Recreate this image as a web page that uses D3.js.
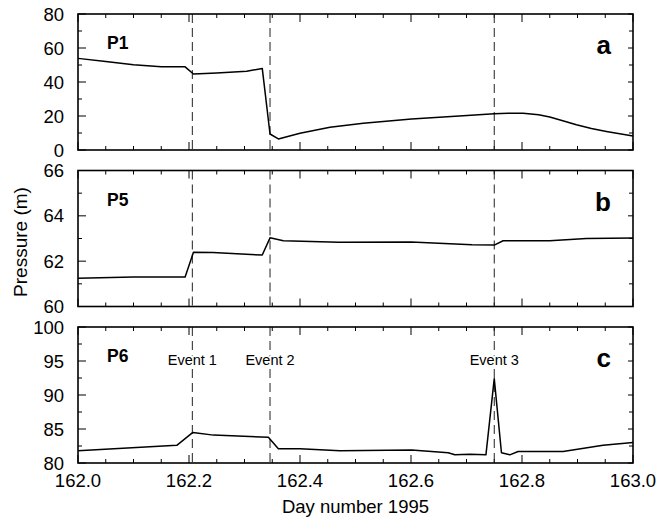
<!DOCTYPE html>
<html>
<head>
<meta charset="utf-8">
<script src="https://cdn.jsdelivr.net/npm/d3@7"></script>
<style>
  body { margin: 0; background: #fff; }
  svg { font-family: "Liberation Sans", Arial, Helvetica, sans-serif; }
</style>
</head>
<body>
<div id="chart"></div>
<script>
// P1 pressure (panel a)
const p1Days   = [162.0, 162.05, 162.1, 162.15, 162.193, 162.208, 162.25, 162.304, 162.332, 162.346, 162.361, 162.4, 162.454, 162.514, 162.601, 162.694, 162.75, 162.775, 162.802, 162.83, 162.85, 162.875, 162.898, 162.925, 162.952, 163.0];
const p1Values = [53.9, 52.0, 50.2, 49.0, 48.9, 44.7, 45.3, 46.3, 48.0, 9.4, 6.5, 9.8, 13.4, 15.7, 18.2, 20.2, 21.3, 21.6, 21.6, 20.7, 19.4, 17.1, 14.8, 12.6, 10.9, 8.2];

// P5 pressure (panel b)
const p5Days   = [162.0, 162.1, 162.193, 162.208, 162.243, 162.332, 162.346, 162.37, 162.47, 162.6, 162.71, 162.75, 162.766, 162.85, 162.916, 163.0];
const p5Values = [61.25, 61.3, 61.3, 62.39, 62.38, 62.27, 63.03, 62.9, 62.84, 62.85, 62.72, 62.71, 62.9, 62.9, 63.0, 63.02];

// P6 pressure (panel c)
const p6Days   = [162.0, 162.178, 162.207, 162.244, 162.343, 162.361, 162.4, 162.472, 162.601, 162.667, 162.679, 162.706, 162.735, 162.75, 162.763, 162.778, 162.793, 162.874, 162.946, 163.0];
const p6Values = [81.8, 82.6, 84.5, 84.1, 83.8, 82.1, 82.1, 81.8, 81.9, 81.5, 81.2, 81.3, 81.2, 92.4, 81.5, 81.2, 81.7, 81.7, 82.6, 83.0];

// events
const eventDays   = [162.206, 162.346, 162.75];
const eventLabels = ["Event 1", "Event 2", "Event 3"];

const xTickLabels = [162.0, 162.2, 162.4, 162.6, 162.8, 163.0];

const panels = [
    {days: p1Days, values: p1Values, name: "P1", letter: "a", domain: [0, 80],   labelStep: 20, minor: 10,  top: 14},
    {days: p5Days, values: p5Values, name: "P5", letter: "b", domain: [60, 66],  labelStep: 2,  minor: 1,   top: 170.5},
    {days: p6Days, values: p6Values, name: "P6", letter: "c", domain: [80, 100], labelStep: 5,  minor: 2.5, top: 327}
];

const width = 666, height = 522;
const left = 78, right = 633, panelH = 136;

const svg = d3.select("#chart").append("svg")
    .attr("width", width)
    .attr("height", height);

const x = d3.scaleLinear().domain([162, 163]).range([left, right]);
const xMinor = d3.range(162, 163.0001, 0.05);

panels.forEach((p, idx) => {
    let g = svg.append("g");
    let y = d3.scaleLinear().domain(p.domain).range([p.top + panelH, p.top]);
    let yMinor = d3.range(p.domain[0], p.domain[1] + 0.0001, p.minor);

    // x ticks, bottom and top, pointing inward
    xMinor.forEach(d => {
        let major = Math.abs((d - 162) / 0.2 - Math.round((d - 162) / 0.2)) < 1e-6;
        let len = major ? 8 : 4;
        g.append("line").attr("x1", x(d)).attr("x2", x(d))
            .attr("y1", p.top + panelH).attr("y2", p.top + panelH - len)
            .attr("stroke", "#000").attr("stroke-width", 1);
        g.append("line").attr("x1", x(d)).attr("x2", x(d))
            .attr("y1", p.top).attr("y2", p.top + len)
            .attr("stroke", "#000").attr("stroke-width", 1);
    });

    // y ticks, left and right
    yMinor.forEach(v => {
        let major = Math.abs((v - p.domain[0]) / p.labelStep - Math.round((v - p.domain[0]) / p.labelStep)) < 1e-6;
        g.append("line").attr("x1", left).attr("x2", left + (major ? 8 : 4))
            .attr("y1", y(v)).attr("y2", y(v))
            .attr("stroke", "#000").attr("stroke-width", 1);
        g.append("line").attr("x1", right).attr("x2", right - (major ? 5 : 4))
            .attr("y1", y(v)).attr("y2", y(v))
            .attr("stroke", "#000").attr("stroke-width", 1);
    });

    // y tick labels
    g.selectAll(".ylab")
        .data(d3.range(p.domain[0], p.domain[1] + 0.0001, p.labelStep))
        .enter().append("text")
        .attr("x", left - 14)
        .attr("y", d => y(d))
        .attr("dy", "0.36em")
        .attr("text-anchor", "end")
        .style("font-size", "18.5px")
        .text(d => d);

    // event dashed lines
    eventDays.forEach(e => {
        g.append("line")
            .attr("x1", x(e)).attr("x2", x(e))
            .attr("y1", p.top).attr("y2", p.top + panelH)
            .attr("stroke", "#222").attr("stroke-width", 1)
            .attr("stroke-dasharray", "9,5");
    });

    // data line
    let line = d3.line()
        .x((d, i) => x(p.days[i]))
        .y(d => y(d));
    g.append("path")
        .datum(p.values)
        .attr("d", line)
        .attr("fill", "none")
        .attr("stroke", "#000")
        .attr("stroke-width", 1.5)
        .attr("stroke-linejoin", "round");

    // frame
    g.append("rect")
        .attr("x", left).attr("y", p.top)
        .attr("width", right - left).attr("height", panelH)
        .attr("fill", "none")
        .attr("stroke", "#000")
        .attr("stroke-width", 1.6);

    // panel name and letter
    g.append("text")
        .attr("x", 107).attr("y", p.top + 35)
        .style("font-size", "17.5px").style("font-weight", "bold")
        .text(p.name);
    g.append("text")
        .attr("x", 611).attr("y", p.top + 40)
        .attr("text-anchor", "end")
        .style("font-size", "26px").style("font-weight", "bold")
        .text(p.letter);

    // event labels only on the last panel
    if (idx === 2) {
        eventDays.forEach((e, i) => {
            g.append("text")
                .attr("x", x(e)).attr("y", p.top + 38)
                .attr("text-anchor", "middle")
                .style("font-size", "14.5px")
                .style("stroke", "#fff").style("stroke-width", 3)
                .style("paint-order", "stroke")
                .text(eventLabels[i]);
        });

        g.selectAll(".xlab")
            .data(xTickLabels)
            .enter().append("text")
            .attr("x", d => x(d))
            .attr("y", p.top + panelH + 24)
            .attr("text-anchor", "middle")
            .style("font-size", "18.5px")
            .text(d => d.toFixed(1));
    }
});

// axis titles
svg.append("text")
    .attr("x", (left + right) / 2)
    .attr("y", 513)
    .attr("text-anchor", "middle")
    .style("font-size", "18.5px")
    .text("Day number 1995");

svg.append("text")
    .attr("transform", "translate(27," + 242 + ") rotate(-90)")
    .attr("text-anchor", "middle")
    .style("font-size", "19px")
    .text("Pressure (m)");
</script>
</body>
</html>
